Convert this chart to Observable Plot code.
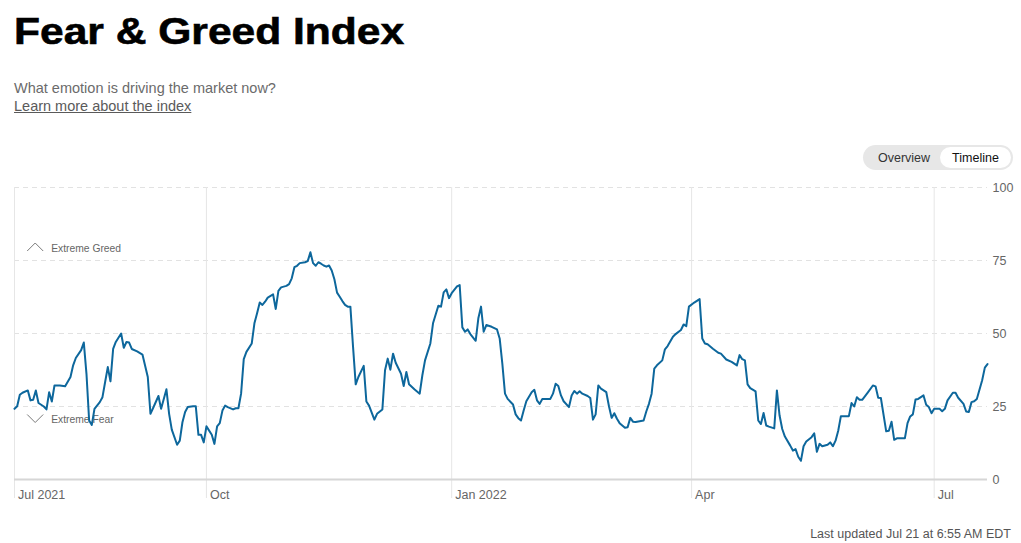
<!DOCTYPE html>
<html>
<head>
<meta charset="utf-8">
<script src="https://cdn.jsdelivr.net/npm/d3@7"></script>
<script src="https://cdn.jsdelivr.net/npm/@observablehq/plot@0.6"></script>
<style>
html, body { margin: 0; padding: 0; background: #fff; }
body { width: 1021px; height: 543px; position: relative; overflow: hidden; font-family: "Liberation Sans", Arial, Helvetica, sans-serif; }
#title { position: absolute; left: 14px; top: 13px; margin: 0; font-size: 37px; line-height: 37px; font-weight: 700; color: #000; letter-spacing: 0; transform: scaleX(1.15); transform-origin: 0 0; white-space: nowrap; -webkit-text-stroke: 0.6px #000; }
#sub { position: absolute; left: 14px; top: 79px; font-size: 14.5px; line-height: 18px; color: #6b6b6b; white-space: nowrap; }
#sub a { color: #5a5a5a; text-decoration: underline; }
#toggle { position: absolute; left: 863px; top: 145px; width: 150px; height: 25px; border-radius: 13px; background: #e7e7e7; font-size: 12.5px; color: #333; }
#toggle .opt { position: absolute; top: 1px; height: 25px; line-height: 25px; text-align: center; }
#toggle .on { background: #fff; border-radius: 11px; top: 2px; height: 21px; line-height: 23px; color: #111; }
#chart { position: absolute; left: 0; top: 177px; }
#foot { position: absolute; right: 10px; top: 527px; font-size: 12.5px; line-height: 15px; color: #555; white-space: nowrap; }
</style>
</head>
<body>
<h1 id="title">Fear &amp; Greed Index</h1>
<div id="sub">What emotion is driving the market now?<br><a href="#">Learn more about the index</a></div>
<div id="toggle"><div class="opt" style="left:3px;width:76px;">Overview</div><div class="opt on" style="left:77px;width:71px;">Timeline</div></div>
<div id="chart"></div>
<div id="foot">Last updated Jul 21 at 6:55 AM EDT</div>
<script>
const dates = [
"2021-07-21","2021-07-22","2021-07-23","2021-07-24","2021-07-26","2021-07-27","2021-07-28","2021-07-29","2021-07-30",
"2021-08-01","2021-08-02","2021-08-03","2021-08-04","2021-08-05","2021-08-07","2021-08-09","2021-08-11","2021-08-12","2021-08-13","2021-08-15","2021-08-16","2021-08-17","2021-08-18","2021-08-19","2021-08-20","2021-08-22","2021-08-23","2021-08-24","2021-08-25","2021-08-26","2021-08-27","2021-08-28","2021-08-30","2021-08-31",
"2021-09-01","2021-09-02","2021-09-03","2021-09-05","2021-09-07","2021-09-09","2021-09-10","2021-09-11","2021-09-13","2021-09-14","2021-09-16","2021-09-17","2021-09-18","2021-09-20","2021-09-21","2021-09-22","2021-09-23","2021-09-24","2021-09-26","2021-09-27","2021-09-28","2021-09-29","2021-09-30",
"2021-10-01","2021-10-03","2021-10-04","2021-10-05","2021-10-06","2021-10-07","2021-10-08","2021-10-09","2021-10-11","2021-10-12","2021-10-13","2021-10-14","2021-10-15","2021-10-16","2021-10-18","2021-10-19","2021-10-20","2021-10-21","2021-10-22","2021-10-23","2021-10-24","2021-10-26","2021-10-27","2021-10-28","2021-10-29","2021-10-31",
"2021-11-01","2021-11-02","2021-11-03","2021-11-04","2021-11-05","2021-11-07","2021-11-08","2021-11-09","2021-11-10","2021-11-11","2021-11-12","2021-11-13","2021-11-14","2021-11-15","2021-11-16","2021-11-17","2021-11-18","2021-11-19","2021-11-20","2021-11-21","2021-11-22","2021-11-23","2021-11-24","2021-11-25","2021-11-26","2021-11-27","2021-11-29","2021-11-30",
"2021-12-01","2021-12-03","2021-12-04","2021-12-06","2021-12-07","2021-12-08","2021-12-09","2021-12-10","2021-12-11","2021-12-13","2021-12-14","2021-12-15","2021-12-16","2021-12-18","2021-12-20","2021-12-21","2021-12-22","2021-12-24","2021-12-25","2021-12-27","2021-12-28","2021-12-29","2021-12-30","2021-12-31",
"2022-01-01","2022-01-03","2022-01-04","2022-01-05","2022-01-06","2022-01-07","2022-01-08","2022-01-10","2022-01-11","2022-01-12","2022-01-13","2022-01-14","2022-01-16","2022-01-18","2022-01-19","2022-01-20","2022-01-21","2022-01-22","2022-01-24","2022-01-25","2022-01-26","2022-01-27","2022-01-28","2022-01-29","2022-01-31",
"2022-02-01","2022-02-02","2022-02-03","2022-02-04","2022-02-05","2022-02-07","2022-02-08","2022-02-09","2022-02-10","2022-02-11","2022-02-12","2022-02-14","2022-02-15","2022-02-16","2022-02-17","2022-02-18","2022-02-19","2022-02-21","2022-02-22","2022-02-23","2022-02-24","2022-02-25","2022-02-26","2022-02-28",
"2022-03-01","2022-03-02","2022-03-03","2022-03-04","2022-03-05","2022-03-07","2022-03-08","2022-03-09","2022-03-10","2022-03-11","2022-03-14","2022-03-15","2022-03-16","2022-03-17","2022-03-18","2022-03-19","2022-03-21","2022-03-22","2022-03-23","2022-03-25","2022-03-26","2022-03-28","2022-03-29","2022-03-30","2022-03-31",
"2022-04-02","2022-04-04","2022-04-05","2022-04-06","2022-04-07","2022-04-09","2022-04-11","2022-04-12","2022-04-14","2022-04-16","2022-04-18","2022-04-19","2022-04-20","2022-04-21","2022-04-22","2022-04-23","2022-04-25","2022-04-26","2022-04-27","2022-04-28","2022-04-29","2022-04-30",
"2022-05-02","2022-05-03","2022-05-04","2022-05-05","2022-05-06","2022-05-08","2022-05-09","2022-05-10","2022-05-11","2022-05-12","2022-05-13","2022-05-14","2022-05-16","2022-05-17","2022-05-18","2022-05-19","2022-05-20","2022-05-22","2022-05-23","2022-05-24","2022-05-25","2022-05-26","2022-05-27","2022-05-30","2022-05-31",
"2022-06-01","2022-06-02","2022-06-03","2022-06-04","2022-06-06","2022-06-08","2022-06-09","2022-06-10","2022-06-11","2022-06-13","2022-06-14","2022-06-15","2022-06-16","2022-06-17","2022-06-20","2022-06-21","2022-06-22","2022-06-23","2022-06-24","2022-06-25","2022-06-27","2022-06-28","2022-06-29","2022-06-30",
"2022-07-01","2022-07-02","2022-07-03","2022-07-04","2022-07-05","2022-07-06","2022-07-08","2022-07-09","2022-07-10","2022-07-12","2022-07-13","2022-07-14","2022-07-15","2022-07-16","2022-07-17","2022-07-19","2022-07-20","2022-07-21"
];
const values = [
24.2,25.1,29.0,29.7,30.5,27.1,27.3,30.5,26.2,
25.0,24.0,29.9,26.7,32.2,32.2,31.9,35.1,39.1,41.6,44.3,46.9,36.2,20.2,18.7,24.2,26.5,28.2,33.4,38.5,33.6,44.7,47.1,50.0,45.1,
47.1,46.9,44.7,43.9,42.8,35.1,22.5,24.5,28.6,24.2,30.9,22.5,17.1,11.9,13.3,19.6,23.1,24.8,25.1,25.1,15.3,15.3,12.7,
18.2,15.3,12.2,18.2,19.3,23.6,25.3,24.8,24.0,24.4,24.4,29.4,41.2,43.7,46.6,53.5,56.9,60.6,59.8,60.9,62.3,63.4,58.4,64.6,65.8,66.3,
66.9,68.9,72.7,73.2,74.1,74.4,74.8,77.8,74.1,73.2,74.4,73.9,73.3,72.9,73.3,71.6,68.6,64.0,62.6,61.1,59.8,59.2,59.2,45.4,32.6,35.1,38.9,26.7,
25.3,20.5,22.5,24.0,37.4,41.4,37.6,43.1,40.0,36.2,32.0,36.8,32.6,30.9,29.4,35.7,40.8,46.6,53.5,59.5,59.2,64.1,65.1,62.1,
63.8,66.1,66.6,52.1,50.6,51.4,49.8,47.5,55.2,59.2,50.6,52.9,52.3,51.4,48.3,39.7,29.4,27.6,25.7,22.3,21.0,20.2,23.6,26.8,29.9,
30.7,27.1,25.9,27.6,27.6,27.6,29.4,32.8,32.0,28.8,26.8,24.8,28.8,30.3,29.4,30.2,29.4,28.6,27.9,20.5,22.3,32.2,31.1,29.9,
25.1,21.1,22.7,20.8,19.3,17.7,17.9,21.1,19.8,19.7,20.2,23.3,25.9,29.4,38.0,39.1,40.8,44.6,45.7,48.9,49.8,51.2,53.1,52.5,59.2,
60.6,61.8,48.3,46.6,46.3,44.8,43.4,43.1,41.1,40.3,39.1,42.6,41.2,40.8,32.6,31.3,30.2,20.2,19.0,22.8,18.5,18.1,
17.5,30.5,21.9,17.3,14.7,11.6,9.9,10.4,7.8,6.4,11.4,13.0,14.5,15.8,9.5,12.2,11.4,11.9,12.7,11.4,13.3,16.7,21.7,21.7,26.2,
25.0,28.2,27.3,27.3,29.7,32.2,31.9,28.0,27.9,16.5,16.7,19.8,13.6,14.1,14.1,19.3,21.6,22.3,27.4,27.6,28.8,25.6,24.8,22.7,
24.2,24.2,24.2,23.4,24.2,27.1,29.7,29.7,28.0,25.9,23.3,23.1,26.5,26.8,27.6,34.0,38.3,39.5
];
const domainDates = ["2021-07-21", "2022-07-21"];
const xTickDates = ["2021-07-21", "2021-10-01", "2022-01-01", "2022-04-01", "2022-07-01"];
const xTickLabels = ["Jul 2021", "Oct", "Jan 2022", "Apr", "Jul"];
const yTicks = [0, 25, 50, 75, 100];
const yDashed = [25, 50, 75, 100];
const zoneLabels = ["Extreme Greed", "Extreme Fear"];
const zoneValues = [75, 25];

const parse = s => new Date(s + "T00:00:00Z");
const series = dates.map((d, i) => ({date: parse(d), value: values[i]}));
const start = parse(domainDates[0]);
const ticks = xTickDates.map((d, i) => ({date: parse(d), label: xTickLabels[i]}));

const chevronUp = {draw(ctx, size) { const r = Math.sqrt(size / Math.PI); ctx.moveTo(-r, r / 2); ctx.lineTo(0, -r / 2); ctx.lineTo(r, r / 2); }};
const chevronDown = {draw(ctx, size) { const r = Math.sqrt(size / Math.PI); ctx.moveTo(-r, -r / 2); ctx.lineTo(0, r / 2); ctx.lineTo(r, -r / 2); }};

const font = '"Liberation Sans", Arial, Helvetica, sans-serif';
const chart = Plot.plot({
  width: 1021,
  height: 332,
  marginTop: 10,
  marginBottom: 30,
  marginLeft: 14,
  marginRight: 34,
  style: {fontFamily: font, fontSize: "12.5px", color: "#666", background: "transparent", overflow: "visible"},
  x: {type: "utc", domain: domainDates.map(parse), axis: null},
  y: {domain: [0, 100], axis: null},
  marks: [
    Plot.ruleY(yDashed, {stroke: "#e2e2e2", strokeWidth: 1, strokeDasharray: "5,4"}),
    Plot.ruleX(ticks, {x: "date", y1: 100, y2: 0, insetBottom: -19, stroke: "#e6e6e6", strokeWidth: 1}),
    Plot.ruleY([0], {stroke: "#d6d6d6", strokeWidth: 2}),
    Plot.text(ticks, {x: "date", text: "label", frameAnchor: "bottom", textAnchor: "start", lineAnchor: "middle", dx: 3.5, dy: 15.5, fill: "#666", fontSize: 12.5}),
    Plot.axisY({anchor: "right", ticks: yTicks, tickSize: 0, tickPadding: 5, label: null, fontSize: 12.5, fill: "#666"}),
    Plot.dot([zoneValues[0]], {x: () => start, y: d => d, symbol: chevronUp, r: 8, fill: "none", stroke: "#7a7a7a", strokeWidth: 1, dx: 20.7, dy: -13.5}),
    Plot.dot([zoneValues[1]], {x: () => start, y: d => d, symbol: chevronDown, r: 8, fill: "none", stroke: "#7a7a7a", strokeWidth: 1, dx: 20.7, dy: 12}),
    Plot.text([zoneLabels[0]], {x: () => start, y: () => zoneValues[0], text: d => d, textAnchor: "start", lineAnchor: "middle", dx: 36.7, dy: -12, fill: "#666", fontSize: 10.3}),
    Plot.text([zoneLabels[1]], {x: () => start, y: () => zoneValues[1], text: d => d, textAnchor: "start", lineAnchor: "middle", dx: 36.7, dy: 13.5, fill: "#666", fontSize: 10.3}),
    Plot.line(series, {x: "date", y: "value", stroke: "#0d679c", strokeWidth: 2, strokeLinejoin: "round"})
  ]
});
document.getElementById("chart").appendChild(chart);
</script>
</body>
</html>
